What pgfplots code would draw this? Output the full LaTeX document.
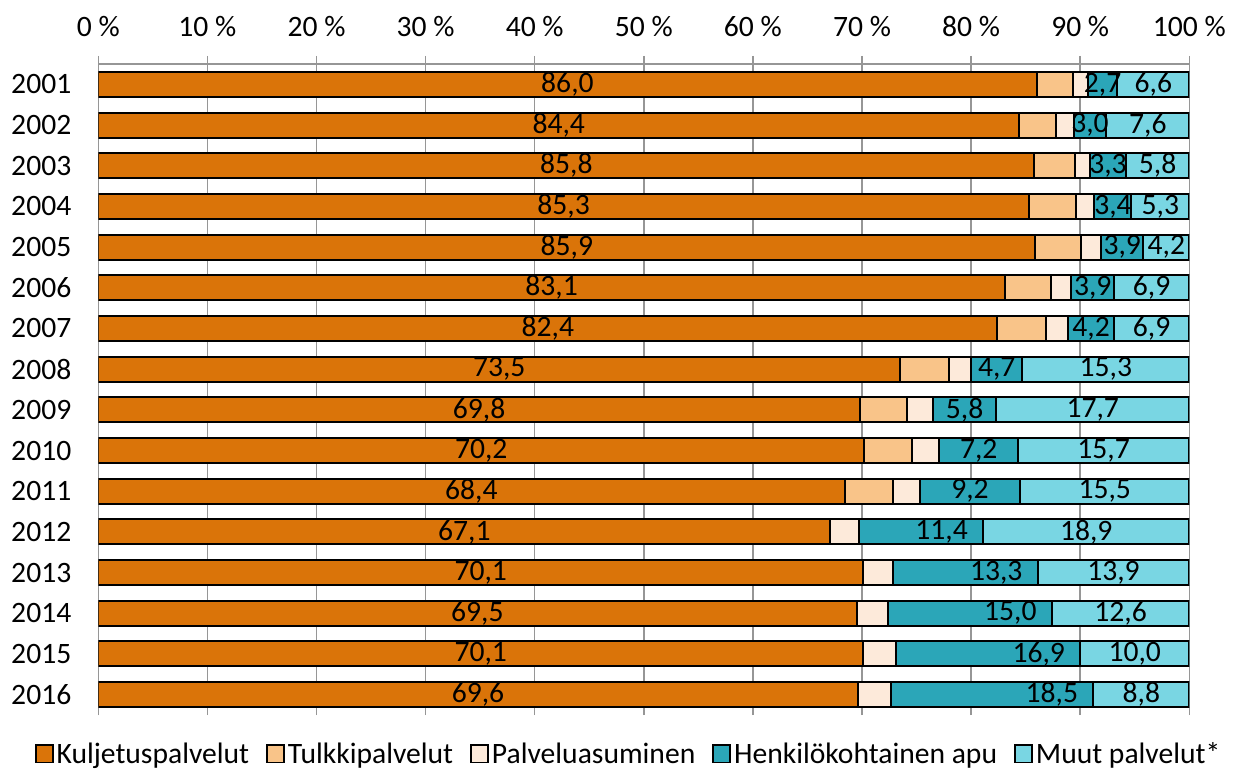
\documentclass[border=0pt]{standalone}
\usepackage{fontspec}
\setmainfont{Carlito}
\usepackage{pgfplots}
\usepackage{pgfplotstable}
\pgfplotsset{compat=1.18}
\definecolor{cK}{RGB}{218,116,9}
\definecolor{cT}{RGB}{249,196,137}
\definecolor{cP}{RGB}{253,234,218}
\definecolor{cH}{RGB}{43,166,184}
\definecolor{cM}{RGB}{121,214,227}
\definecolor{gridgray}{RGB}{150,150,150}

\pgfplotstableread{
idx K T P H M Kc Hc Mc
15 86.0 3.3 1.4 2.7 6.6 43.0 92.05 96.7
14 84.4 3.4 1.6 3.0 7.6 42.2 90.9 96.2
13 85.8 3.7 1.4 3.3 5.8 42.9 92.55 97.1
12 85.3 4.3 1.7 3.4 5.3 42.65 93.0 97.35
11 85.9 4.2 1.8 3.9 4.2 42.95 93.85 97.9
10 83.1 4.2 1.9 3.9 6.9 41.55 91.15 96.55
9 82.4 4.5 2.0 4.2 6.9 41.2 91.0 96.55
8 73.5 4.5 2.0 4.7 15.3 36.75 82.35 92.35
7 69.8 4.3 2.4 5.8 17.7 34.9 79.4 91.15
6 70.2 4.4 2.5 7.2 15.7 35.1 80.7 92.15
5 68.4 4.4 2.5 9.2 15.5 34.2 79.9 92.25
4 67.1 0 2.6 11.4 18.9 33.55 77.3 90.55
3 70.1 0 2.7 13.3 13.9 35.05 82.3 93.05
2 69.5 0 2.9 15.0 12.6 34.75 83.6 93.7
1 70.1 0 3.0 16.9 10.0 35.05 86.2 95.0
0 69.6 0 3.1 18.5 8.8 34.8 87.4 95.6
}\data

\pgfplotsset{
  common/.style={
    at={(0,0)}, anchor=south west,
    scale only axis, width=545.5bp, height=325.5bp,
    xmin=0, xmax=100, ymin=-0.5, ymax=15.5,
  },
  lab/.style={
    draw=none, mark=none, forget plot,
    point meta=explicit,
    nodes near coords={\pgfmathprintnumber[fixed,fixed zerofill,precision=1,use comma,assume math mode=true]{\pgfplotspointmeta}},
    every node near coord/.append style={anchor=center, text=black, inner sep=0pt},
  },
}

\begin{document}
\begin{tikzpicture}[font=\fontsize{14.8bp}{17bp}\selectfont]
\useasboundingbox (-49.15bp,-27bp) rectangle (568.85bp,357.5bp);
\begin{axis}[
  common,
  xbar stacked, bar width=12.5bp,
  axis x line*=top, axis y line*=left,
  axis line style={gridgray, line width=0.75bp, -},
  xtick={0,10,...,100},
  xticklabels={0 \%,10 \%,20 \%,30 \%,40 \%,50 \%,60 \%,70 \%,80 \%,90 \%,100 \%},
  xmajorgrids, grid style={gridgray, line width=0.75bp},
  ytick={0,...,15},
  yticklabels={2016,2015,2014,2013,2012,2011,2010,2009,2008,2007,2006,2005,2004,2003,2002,2001},
  major tick length=4bp, tick align=outside,
  x tick style={gridgray, line width=0.75bp},
  y tick style={draw=none},
  x tick label style={yshift=6bp},
  y tick label style={xshift=-6bp},
  legend style={at={(0.4865,0)}, anchor=north, yshift=-12bp, draw=none, fill=none,
    legend columns=-1, inner sep=0pt,
    nodes={inner sep=1.5bp},
    /tikz/every even column/.append style={column sep=7bp}},
  legend image code/.code={\draw[#1, draw=black, line width=0.9bp] (0bp,-4bp) rectangle (8.5bp,4.5bp);},
]
\addplot[fill=cK, draw=black, line width=1bp] table[x=K, y=idx]{\data};
\addplot[fill=cT, draw=black, line width=1bp] table[x=T, y=idx]{\data};
\addplot[fill=cP, draw=black, line width=1bp] table[x=P, y=idx]{\data};
\addplot[fill=cH, draw=black, line width=1bp] table[x=H, y=idx]{\data};
\addplot[fill=cM, draw=black, line width=1bp] table[x=M, y=idx]{\data};
\legend{Kuljetuspalvelut, Tulkkipalvelut, Palveluasuminen, Henkilökohtainen apu, Muut palvelut*}
\end{axis}
\begin{axis}[common, hide axis]
\addplot[lab] table[x=Kc, y=idx, meta=K]{\data};
\addplot[lab] table[x=Hc, y=idx, meta=H]{\data};
\addplot[lab] table[x=Mc, y=idx, meta=M]{\data};
\end{axis}
\end{tikzpicture}
\end{document}
